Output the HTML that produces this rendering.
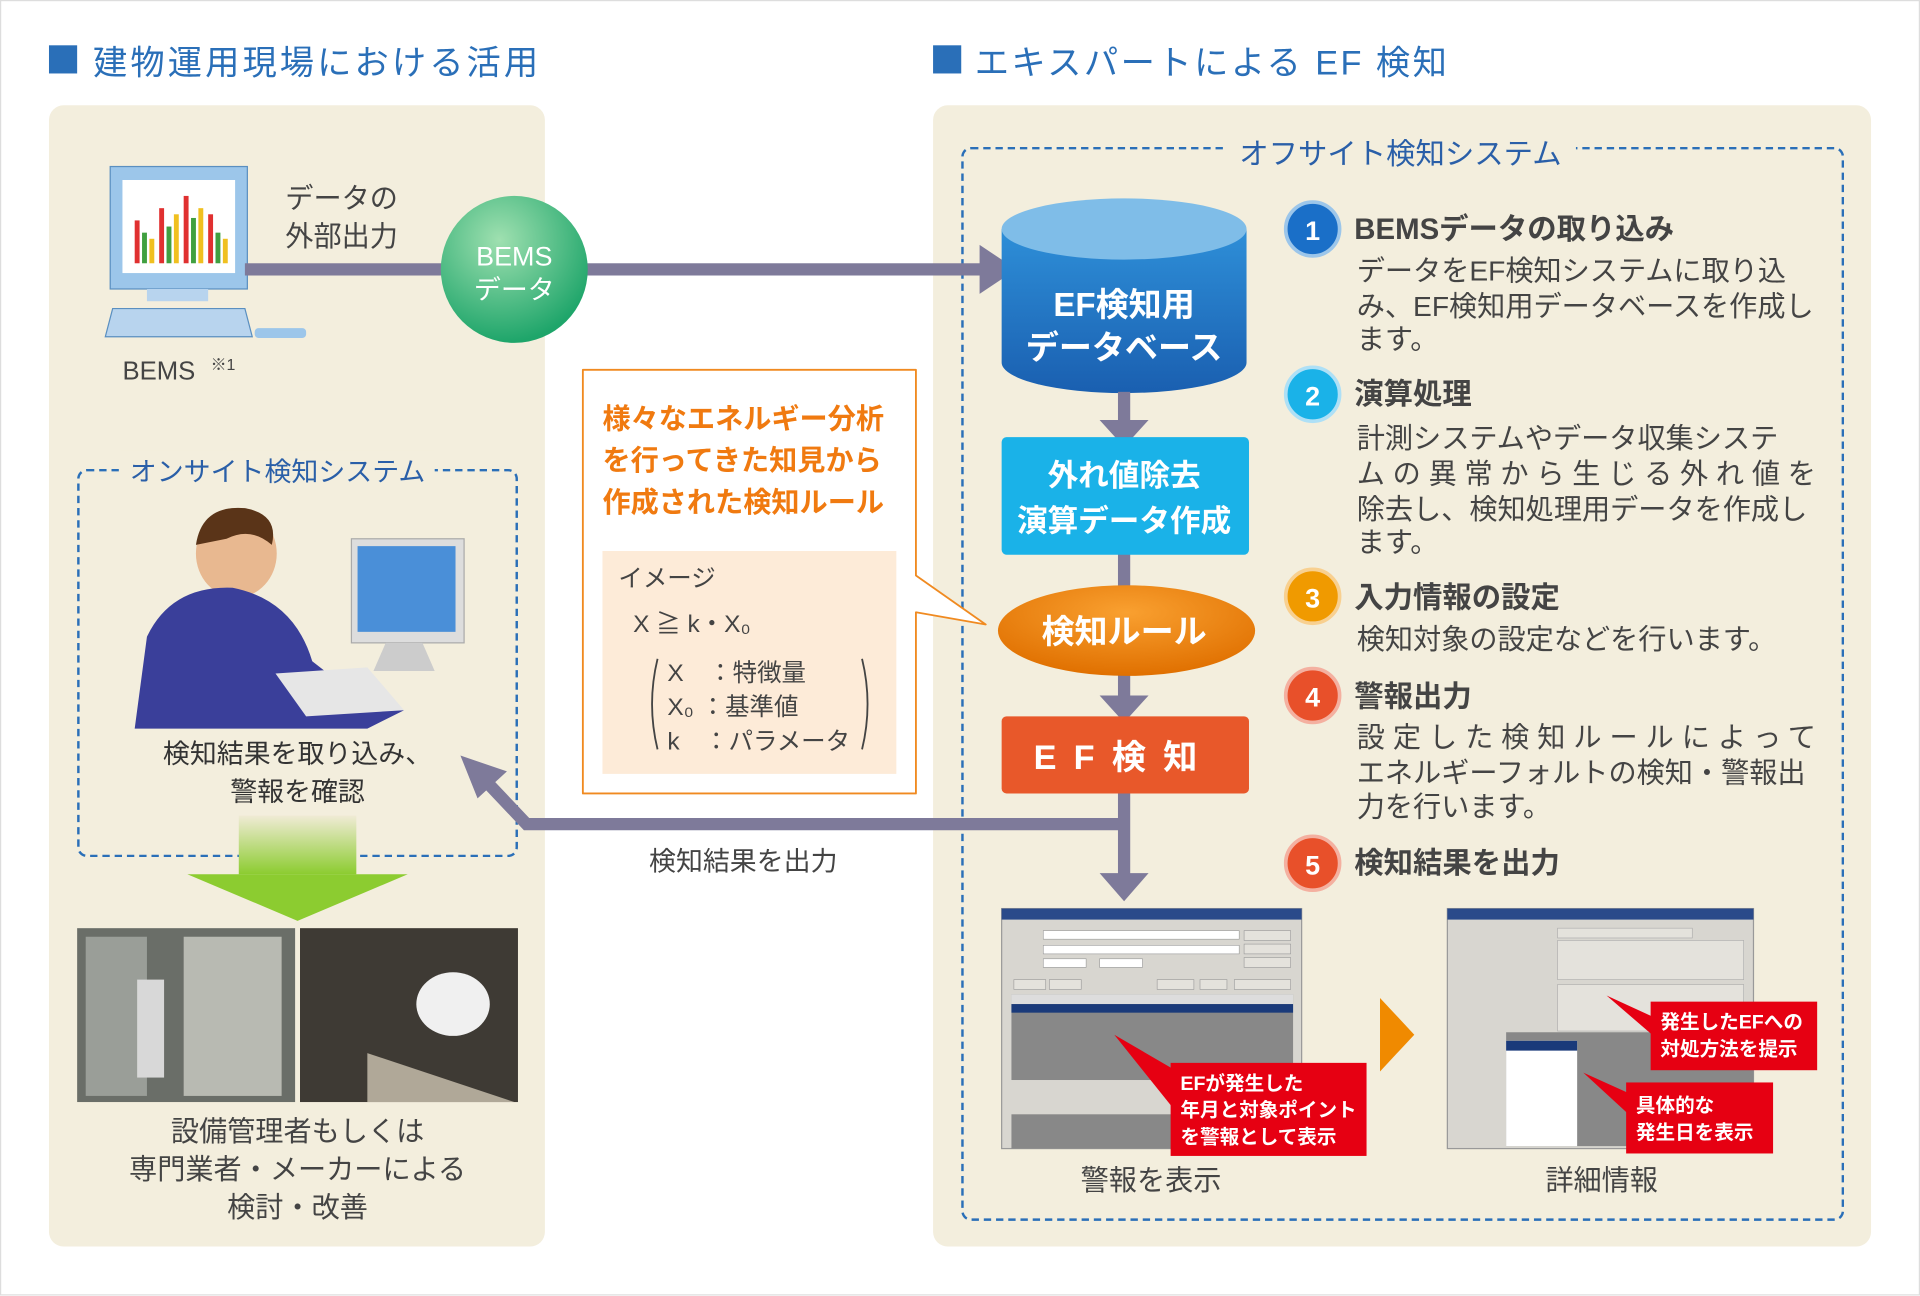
<!DOCTYPE html>
<html><head><meta charset="utf-8"><style>
*{margin:0;padding:0;box-sizing:border-box}
body{width:1920px;height:1295px;background:#fff;overflow:hidden;font-family:"Liberation Sans","Noto Sans CJK JP",sans-serif}
#s{position:absolute;left:0;top:0;width:1568px;height:1058px;transform:scale(1.2245);transform-origin:0 0}
.a{position:absolute}
</style></head><body><div id="s">
<div class="a" style="left:0;top:0;width:1568px;height:1058px;border:1px solid #ddd"></div>
<div class="a" style="left:40px;top:37px;width:23px;height:23px;background:#2a6fb8"></div>
<div class="a" style="left:76px;top:30px;font-size:28px;color:#2a6fb8;letter-spacing:2.5px">建物運用現場における活用</div>
<div class="a" style="left:762px;top:37px;width:23px;height:23px;background:#2a6fb8"></div>
<div class="a" style="left:796px;top:30px;font-size:28px;color:#2a6fb8;letter-spacing:2px">エキスパートによる EF 検知</div>
<div class="a" style="left:40px;top:86px;width:405px;height:932px;background:#f3eedd;border-radius:12px"></div>
<div class="a" style="left:762px;top:86px;width:766px;height:932px;background:#f3eedd;border-radius:12px"></div>
<div class="a" style="left:785px;top:120px;width:721px;height:877px;border:2.5px dashed #2a6fb8;border-radius:8px"></div>
<div class="a" style="left:1000px;top:106px;padding:0 12px;background:#f3eedd;font-size:24px;color:#2a5fa8">オフサイト検知システム</div>
<div class="a" style="left:63px;top:383px;width:360px;height:317px;border:2.5px dashed #2a6fb8;border-radius:8px"></div>
<div class="a" style="left:98px;top:368px;padding:0 8px;background:#f3eedd;font-size:22px;color:#2a5fa8">オンサイト検知システム</div>

<svg class="a" style="left:0;top:0" width="1568" height="1058">
<defs>
<radialGradient id="g1" cx="40%" cy="30%" r="70%"><stop offset="0" stop-color="#9fe0b0"/><stop offset="1" stop-color="#1ea56a"/></radialGradient>
<linearGradient id="cy" x1="0" y1="0" x2="0" y2="1"><stop offset="0" stop-color="#2e8fd8"/><stop offset="1" stop-color="#1a5fb0"/></linearGradient>
<radialGradient id="el" cx="50%" cy="30%" r="70%"><stop offset="0" stop-color="#f9a030"/><stop offset="1" stop-color="#e07000"/></radialGradient>
<linearGradient id="gr" x1="0" y1="0" x2="0" y2="1"><stop offset="0" stop-color="#f0ebd5"/><stop offset="1" stop-color="#8ccc30"/></linearGradient>
</defs>
<rect x="90" y="136" width="112" height="100" fill="#9cc6ea" stroke="#5a8fc0"/>
<rect x="100" y="147" width="92" height="76" fill="#fff"/>
<g fill="#e03030"><rect x="110" y="180" width="4" height="35"/><rect x="130" y="170" width="4" height="45"/><rect x="150" y="160" width="4" height="55"/><rect x="170" y="175" width="4" height="40"/></g>
<g fill="#40a040"><rect x="116" y="190" width="4" height="25"/><rect x="136" y="185" width="4" height="30"/><rect x="156" y="178" width="4" height="37"/><rect x="176" y="190" width="4" height="25"/></g>
<g fill="#f0c020"><rect x="122" y="195" width="4" height="20"/><rect x="142" y="175" width="4" height="40"/><rect x="162" y="170" width="4" height="45"/><rect x="182" y="195" width="4" height="20"/></g>
<rect x="120" y="236" width="50" height="10" fill="#b8d4ee"/>
<path d="M92 252 L200 252 L206 275 L86 275 Z" fill="#b8d4ee" stroke="#5a8fc0"/>
<rect x="208" y="268" width="42" height="8" rx="3" fill="#9cc6ea"/>
<text x="100" y="310" font-size="21" fill="#444">BEMS</text><text x="172" y="302" font-size="13" fill="#444">※1</text>
<text x="233" y="170" font-size="23" fill="#444">データの</text>
<text x="233" y="201" font-size="23" fill="#444">外部出力</text>
<rect x="200" y="215" width="610" height="10" fill="#7e7a9a"/>
<path d="M800 200 L830 220 L800 240 Z" fill="#7e7a9a"/>
<circle cx="420" cy="220" r="60" fill="url(#g1)"/>
<text x="420" y="217" font-size="22" fill="#fff" text-anchor="middle">BEMS</text>
<text x="420" y="244" font-size="22" fill="#fff" text-anchor="middle">データ</text>
<path d="M818 187 L818 296 A100 25 0 0 0 1018 296 L1018 187 Z" fill="url(#cy)"/>
<ellipse cx="918" cy="187" rx="100" ry="25" fill="#7fbde8"/>
<text x="918" y="258" font-size="27" font-weight="bold" fill="#fff" text-anchor="middle">EF検知用</text>
<text x="918" y="293" font-size="27" font-weight="bold" fill="#fff" text-anchor="middle">データベース</text>
<rect x="913" y="320" width="10" height="25" fill="#7e7a9a"/><path d="M898 343 L938 343 L918 365 Z" fill="#7e7a9a"/>
<rect x="913" y="452" width="10" height="40" fill="#7e7a9a"/>
<rect x="913" y="550" width="10" height="20" fill="#7e7a9a"/><path d="M898 568 L938 568 L918 590 Z" fill="#7e7a9a"/>
<rect x="913" y="648" width="10" height="70" fill="#7e7a9a"/><path d="M898 713 L938 713 L918 736 Z" fill="#7e7a9a"/>
<path d="M918 673 L430 673 L395 636" fill="none" stroke="#7e7a9a" stroke-width="10"/>
<path d="M376 617 L414 630 L390 652 Z" fill="#7e7a9a"/>
<rect x="818" y="357" width="202" height="96" rx="4" fill="#1ab2e8"/>
<text x="918" y="397" font-size="25" font-weight="bold" fill="#fff" text-anchor="middle">外れ値除去</text>
<text x="918" y="434" font-size="25" font-weight="bold" fill="#fff" text-anchor="middle">演算データ作成</text>
<ellipse cx="920" cy="515" rx="105" ry="37" fill="url(#el)"/>
<text x="918" y="525" font-size="27" font-weight="bold" fill="#fff" text-anchor="middle">検知ルール</text>
<rect x="818" y="585" width="202" height="63" rx="4" fill="#e8582a"/>
<text x="918" y="628" font-size="28" font-weight="bold" fill="#fff" text-anchor="middle" letter-spacing="14">EF検知</text>
<path d="M476 302 L748 302 L748 470 L805 510 L748 500 L748 648 L476 648 Z" fill="#fff" stroke="#f08a20" stroke-width="1.5" stroke-linejoin="round"/>
<rect x="492" y="450" width="240" height="182" fill="#fdebd8"/>
<g font-size="23" font-weight="bold" fill="#f07a10"><text x="492" y="350">様々なエネルギー分析</text><text x="492" y="384">を行ってきた知見から</text><text x="492" y="418">作成された検知ルール</text></g>
<g font-size="20" fill="#444"><text x="505" y="479">イメージ</text><text x="517" y="516">X ≧ k・X₀</text>
<text x="545" y="556">X　：特徴量</text><text x="545" y="584">X₀ ：基準値</text><text x="545" y="612">k　：パラメータ</text></g>
<path d="M537 538 Q528 575 537 612" fill="none" stroke="#444" stroke-width="1.5"/>
<path d="M704 538 Q713 575 704 612" fill="none" stroke="#444" stroke-width="1.5"/>
<text x="607" y="711" font-size="22" fill="#444" text-anchor="middle">検知結果を出力</text>
<ellipse cx="193" cy="452" rx="33" ry="36" fill="#e8b890"/>
<path d="M160 445 Q165 412 200 415 Q228 420 222 445 Q205 430 185 440 Z" fill="#5a3418"/>
<path d="M120 520 Q140 478 190 480 Q240 490 255 540 L300 575 L330 580 L300 595 L110 595 Z" fill="#3a3f9a"/>
<rect x="287" y="440" width="92" height="85" fill="#ddd" stroke="#aaa"/><rect x="292" y="446" width="80" height="70" fill="#4a8fd8"/>
<path d="M315 525 L345 525 L355 548 L305 548Z" fill="#ccc"/>
<path d="M225 550 L300 545 L330 580 L250 585 Z" fill="#e6e6e6"/>
<text x="243" y="623" font-size="22" fill="#333" text-anchor="middle">検知結果を取り込み、</text>
<text x="243" y="654" font-size="22" fill="#333" text-anchor="middle">警報を確認</text>
<rect x="195" y="666" width="96" height="48" fill="url(#gr)"/>
<path d="M153 714 L333 714 L243 752 Z" fill="#8ccc30"/>
<rect x="63" y="758" width="178" height="142" fill="#6a6e68"/>
<rect x="70" y="765" width="50" height="130" fill="#9a9e98"/><rect x="150" y="765" width="80" height="130" fill="#b8bab2"/>
<rect x="112" y="800" width="22" height="80" fill="#d8d8d8"/>
<rect x="245" y="758" width="178" height="142" fill="#3e3a34"/>
<ellipse cx="370" cy="820" rx="30" ry="26" fill="#f0f0f0"/><path d="M300 860 L420 900 L300 900Z" fill="#b0a898"/>
<text x="243" y="932" font-size="23" fill="#444" text-anchor="middle">設備管理者もしくは</text>
<text x="243" y="963" font-size="23" fill="#444" text-anchor="middle">専門業者・メーカーによる</text>
<text x="243" y="994" font-size="23" fill="#444" text-anchor="middle">検討・改善</text>
<rect x="818" y="742" width="245" height="196" fill="#d8d6d0" stroke="#999"/>
<rect x="818" y="742" width="245" height="9" fill="#2a4a8a"/>
<g fill="#fff" stroke="#999" stroke-width="0.5"><rect x="852" y="760" width="160" height="7"/><rect x="852" y="772" width="160" height="7"/><rect x="852" y="783" width="35" height="7"/><rect x="898" y="783" width="35" height="7"/></g>
<g fill="#e4e2dc" stroke="#999" stroke-width="0.5"><rect x="1016" y="760" width="38" height="8"/><rect x="1016" y="771" width="38" height="8"/><rect x="1016" y="782" width="38" height="8"/><rect x="828" y="800" width="26" height="8"/><rect x="857" y="800" width="26" height="8"/><rect x="945" y="800" width="30" height="8"/><rect x="980" y="800" width="22" height="8"/><rect x="1008" y="800" width="46" height="8"/></g>
<rect x="826" y="812" width="230" height="70" fill="#888"/><rect x="826" y="812" width="230" height="8" fill="#ddd"/><rect x="826" y="820" width="230" height="7" fill="#1a3a7a"/>
<rect x="826" y="910" width="230" height="28" fill="#888"/>
<path d="M1127 815 L1155 845 L1127 875 Z" fill="#f08a00"/>
<rect x="1182" y="742" width="250" height="196" fill="#d8d6d0" stroke="#999"/>
<rect x="1182" y="742" width="250" height="9" fill="#2a4a8a"/>
<rect x="1272" y="758" width="110" height="8" fill="#e4e2dc" stroke="#aaa" stroke-width="0.5"/>
<rect x="1272" y="768" width="152" height="32" fill="#e4e2dc" stroke="#aaa" stroke-width="0.5"/>
<rect x="1272" y="804" width="152" height="38" fill="#e4e2dc" stroke="#aaa" stroke-width="0.5"/>
<rect x="1230" y="843" width="202" height="93" fill="#888"/><rect x="1230" y="850" width="58" height="86" fill="#fff"/><rect x="1230" y="850" width="58" height="8" fill="#1a3a7a"/>
<path d="M910 845 L970 880 L958 905 Z" fill="#e60012"/>
<rect x="956" y="868" width="160" height="76" fill="#e60012"/>
<g font-size="16" font-weight="bold" fill="#fff"><text x="964" y="890">EFが発生した</text><text x="964" y="912">年月と対象ポイント</text><text x="964" y="934">を警報として表示</text></g>
<path d="M1312 813 L1360 835 L1355 850 Z" fill="#e60012"/>
<rect x="1348" y="818" width="136" height="56" fill="#e60012"/>
<g font-size="16" font-weight="bold" fill="#fff"><text x="1356" y="840">発生したEFへの</text><text x="1356" y="862">対処方法を提示</text></g>
<path d="M1293 876 L1335 895 L1330 910 Z" fill="#e60012"/>
<rect x="1328" y="884" width="120" height="58" fill="#e60012"/>
<g font-size="16" font-weight="bold" fill="#fff"><text x="1336" y="908">具体的な</text><text x="1336" y="930">発生日を表示</text></g>
<text x="940" y="972" font-size="23" fill="#444" text-anchor="middle">警報を表示</text>
<text x="1308" y="972" font-size="23" fill="#444" text-anchor="middle">詳細情報</text>
<g font-size="22" font-weight="bold" fill="#fff" text-anchor="middle">
<circle cx="1072" cy="187" r="22" fill="#1a6fc8" stroke="#9cc6ea" stroke-width="3"/><text x="1072" y="196">1</text>
<circle cx="1072" cy="322" r="22" fill="#1ab2e8" stroke="#aee0f6" stroke-width="3"/><text x="1072" y="331">2</text>
<circle cx="1072" cy="487" r="22" fill="#f09a00" stroke="#f8d090" stroke-width="3"/><text x="1072" y="496">3</text>
<circle cx="1072" cy="568" r="22" fill="#e8502a" stroke="#f4b0a0" stroke-width="3"/><text x="1072" y="577">4</text>
<circle cx="1072" cy="705" r="22" fill="#e8502a" stroke="#f4b0a0" stroke-width="3"/><text x="1072" y="714">5</text>
</g>
<g font-size="24" font-weight="bold" fill="#444">
<text x="1106" y="195">BEMSデータの取り込み</text><text x="1106" y="330">演算処理</text><text x="1106" y="496">入力情報の設定</text><text x="1106" y="577">警報出力</text><text x="1106" y="713">検知結果を出力</text></g>
<g font-size="23" fill="#444">
<text x="1108" y="229">データをEF検知システムに取り込</text><text x="1108" y="258">み、EF検知用データベースを作成し</text><text x="1108" y="285">ます。</text>
<text x="1108" y="366">計測システムやデータ収集システ</text><text x="1108" y="395" textLength="375">ムの異常から生じる外れ値を</text><text x="1108" y="424">除去し、検知処理用データを作成し</text><text x="1108" y="451">ます。</text>
<text x="1108" y="530">検知対象の設定などを行います。</text>
<text x="1108" y="610" textLength="375">設定した検知ルールによって</text><text x="1108" y="639">エネルギーフォルトの検知・警報出</text><text x="1108" y="667">力を行います。</text></g>
</svg>
</div></body></html>
